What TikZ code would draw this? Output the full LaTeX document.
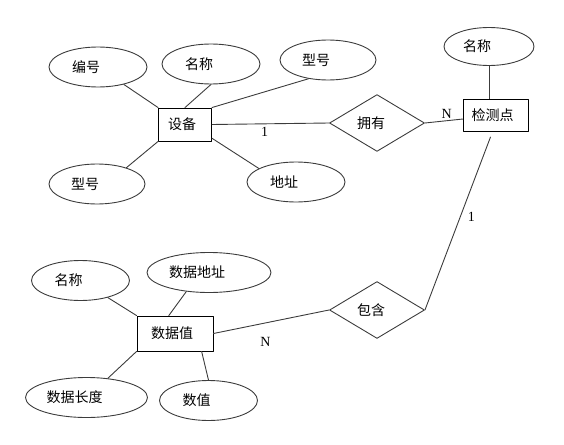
\documentclass[tikz,border=0pt]{standalone}
\usepackage{fontspec}
\setmainfont{Liberation Serif}
\newfontfamily\cjk{Noto Sans CJK SC}
\usetikzlibrary{shapes.geometric}
\definecolor{erline}{HTML}{3C3C3C}

\begin{document}
\begin{tikzpicture}[x=1pt,y=-1pt,line cap=round,line join=round,
 link/.style={draw=erline,line width=.9pt},
 entity/.style={rectangle,draw=black,line width=.9pt,inner sep=0pt,
  font=\cjk\fontsize{14}{16}\selectfont,execute at end node={\hspace{6pt}}},
 attr/.style={ellipse,draw=erline,line width=.9pt,inner sep=1pt,
  minimum width=#1,minimum height=40pt,
  font=\cjk\fontsize{14}{16}\selectfont,execute at end node={\hspace{24pt}}},
 attr/.default=98pt,
 relation/.style={diamond,draw=erline,line width=.9pt,inner sep=1pt,
  minimum width=95pt,minimum height=46pt,
  font=\cjk\fontsize{14}{16}\selectfont,execute at end node={\hspace{12pt}}},
 card/.style={font=\fontsize{14}{16}\selectfont,inner sep=.3333em}]
\useasboundingbox (0,0) rectangle (564,444);
% Device entity with its attributes.
\node[entity,minimum width=53pt,minimum height=33pt] (sb) at (185,124.5) {设备};
\node[attr] (bh) at (98,67) {编号};
\node[attr] (mc) at (211,64) {名称};
\node[attr=96pt] (xh) at (328,60) {型号};
\node[attr=96pt] (xhb) at (97,184) {型号};
\node[attr] (dz) at (296,182) {地址};
\draw[link] (bh) -- (sb.north west);
\draw[link] (mc.south) -- (sb.north);
\draw[link] (xh.224) -- (sb.north east);
\draw[link] (sb.south west) -- (xhb.29);
\draw[link] (sb.-27) -- (dz.160);
% Monitoring point and the relation between them.
\node[relation] (yy) at (377,123) {拥有};
\node[entity,minimum width=65pt,minimum height=32pt] (jcd) at (495.5,115) {检测点};
\node[attr=90pt,minimum height=38pt] (jmc) at (489,46.5) {名称};
\draw[link] (sb.east) -- (yy.west) node[card,pos=.45,below] (r1) {1};
\draw[link] (yy.east) -- (jcd.187) node[card,pos=.58,above=-1.5pt] (rn) {N};
\draw[link] (jmc.south) -- (jmc.south |- jcd.north);
% Data value entity, its attributes, and the containing relation.
\node[relation] (bao) at (377,310) {包含};
\node[entity,minimum width=76pt,minimum height=35pt] (sjz) at (175,333.5) {数据值};
\node[attr] (smc) at (80.5,280.5) {名称};
\node[attr=124pt] (sdz) at (209,272.5) {数据地址};
\node[attr=122pt] (scd) at (86.5,397.5) {数据长度};
\node[attr] (sz) at (208.5,400.5) {数值};
\draw[link,shorten <=6pt] (jcd.-100) -- (bao.east) node[card,pos=.48,right=4pt] (s1) {1};
\draw[link] (sjz.east) -- (bao.west) node[card,pos=.45,below=11pt] (sn) {N};
\draw[link] (smc) -- (sjz.north west);
\draw[link] (sdz.220) -- (sjz.109);
\draw[link] (sjz.south west) -- (scd.42);
\draw[link] (sjz.-34) -- (sz.north);
\end{tikzpicture}
\end{document}
